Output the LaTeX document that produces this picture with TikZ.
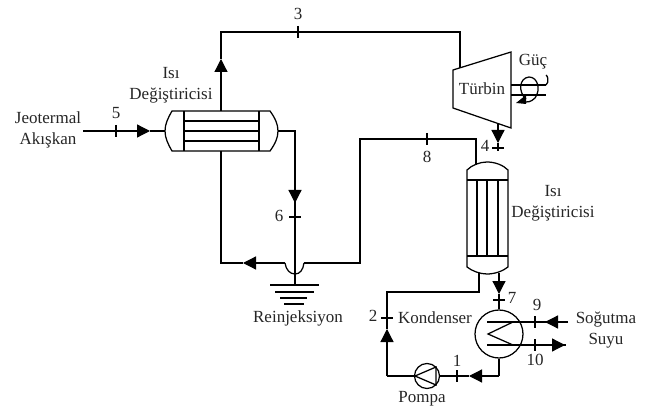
\documentclass[tikz,border=0pt]{standalone}
\usepackage{fontspec}
\setmainfont{Liberation Serif}
\usetikzlibrary{arrows.meta,calc}
\tikzset{
  wire/.style={line width=1.25pt,draw=black,line join=miter},
  thick wire/.style={line width=2pt,draw=black},
  tip/.style={wire,-{Triangle[length=13pt,width=13pt]}},
  txt/.style={inner sep=0pt,outer sep=0pt,align=center,font=\fontsize{17}{21}\selectfont,text=black!85},
}
\newcommand{\tickh}[2]{\draw[wire] (#1,#2-6) -- (#1,#2+6);}
\newcommand{\tickv}[2]{\draw[wire] (#1-6,#2) -- (#1+6,#2);}
\begin{document}
\begin{tikzpicture}[x=1pt,y=-1pt]
\useasboundingbox (0,0) rectangle (646,409);
\fill[white] (0,0) rectangle (646,409);

% Left heat exchanger
\coordinate (hxaL) at (165,131);
\coordinate (hxaR) at (278,131);
\coordinate (hxaT) at (221,111);
\coordinate (hxaB) at (221,151);
\draw[wire] (172,111) -- (270,111) .. controls (275,118) and (278,124) .. (hxaR) .. controls (278,138) and (275,144) .. (270,151) -- (172,151) .. controls (168,144) and (165,138) .. (hxaL) .. controls (165,124) and (168,118) .. (172,111) -- cycle;
\draw[wire] (184,111) -- (184,151) (259,111) -- (259,151);
\draw[wire] (184,121) -- (259,121) (184,131) -- (259,131) (184,141) -- (259,141);

% Turbine
\coordinate (tuIn) at (460,68);
\coordinate (tuOut) at (498,124);
\draw[wire] (453,70) -- (511,52) -- (511,128) -- (453,108) -- cycle;
\node[txt] (turbin) at (482,89) {Türbin};
\draw[wire] (511,85) -- (546,85) (511,95) -- (546,95);
\draw[wire] (546,85) arc[start angle=70,end angle=-70,x radius=3,y radius=5.3];
\draw[wire] (526,99) .. controls (518,92) and (519,78) .. (529,77) .. controls (538,77) and (541,90) .. (535,98) .. controls (531,102) and (527,103) .. (523,101);
\fill (516,103) -- (526,95) -- (526,104) -- cycle;

% Right heat exchanger
\coordinate (hxbT) at (476,165);
\coordinate (hxbB) at (479,273);
\coordinate (hxbBo) at (499,273);
\draw[wire] (467,170) .. controls (472,165) and (480,162) .. (487,162) .. controls (495,162) and (503,165) .. (508,170) -- (508,267) .. controls (503,271) and (495,274) .. (487,274) .. controls (480,274) and (472,271) .. (467,267) -- cycle;
\draw[wire] (467,180) -- (508,180) (467,256) -- (508,256);
\draw[wire] (477,180) -- (477,256) (487,180) -- (487,256) (498,180) -- (498,256);

% Condenser
\node[circle,draw=black,line width=1.25pt,minimum size=48pt,inner sep=0pt] (cond) at (499,334) {};
\coordinate (coilIn) at (568,322);
\coordinate (coilOut) at (566,345);
\draw[wire] (487,322) -- (coilIn);
\draw[wire] (513,322) -- (488,334) -- (513,345);
\draw[wire] (487,345) -- (coilOut);

% Pump
\node[circle,draw=black,line width=1.25pt,minimum size=25pt,inner sep=0pt] (pump) at (427,376) {};
\draw[wire] (415,376) -- (436,367) -- (436,385) -- cycle;

% Ground
\coordinate (gnd) at (295,285);
\draw[thick wire] (270,285) -- (319,285) (275,292) -- (314,292) (280,298) -- (307,298) (284,304) -- (304,304);

% Free ends and corners
\coordinate (in5) at (83,131);
\coordinate (tipA) at (150,131);
\coordinate (tipB) at (221,59);
\coordinate (c1) at (221,32);
\coordinate (c2) at (460,32);
\coordinate (c3) at (295,131);
\coordinate (tipC) at (295,203);
\coordinate (c4) at (221,263);
\coordinate (tipD) at (243,263);
\coordinate (a1) at (285,263);
\coordinate (a2) at (304,263);
\coordinate (c5) at (360,263);
\coordinate (c6) at (360,139);
\coordinate (c7) at (476,139);
\coordinate (tipE) at (498,143);
\coordinate (e1) at (498,151);
\coordinate (tipF) at (499,294);
\coordinate (c8) at (479,292);
\coordinate (c9) at (387,292);
\coordinate (tipG) at (387,329);
\coordinate (c10) at (387,376);
\coordinate (c11) at (499,376);
\coordinate (tipH) at (469,376);
\coordinate (tipI) at (545,322);
\coordinate (tipJ) at (565,345);

% Connectors
\draw[tip] (in5) -- (tipA);
\draw[wire] (tipA) -- (hxaL);
\draw[tip] (hxaT) -- (tipB);
\draw[wire] (tipB) -- (c1) -- (c2) -- (tuIn);
\draw[wire] (hxaR) -- (c3) -- (tipC);
\draw[tip] (c3) -- (tipC);
\draw[wire] (tipC) -- (gnd);
\draw[wire] (hxaB) -- (c4) -- (tipD);
\draw[tip] (a1) -- (tipD);
\draw[wire] (a1) .. controls (286,270) and (290,274) .. (295,274) .. controls (300,274) and (303,270) .. (a2);
\draw[wire] (a2) -- (c5) -- (c6) -- (c7) -- (hxbT);
\draw[tip] (tuOut) -- (tipE);
\draw[wire] (tipE) -- (e1);
\draw[tip] (hxbBo) -- (tipF);
\draw[wire] (tipF) -- (cond.north);
\draw[wire] (hxbB) -- (c8) -- (c9) -- (tipG);
\draw[tip] (c10) -- (tipG);
\draw[wire] (c10) -- (pump.west);
\draw[wire] (pump.east) -- (tipH);
\draw[tip] (c11) -- (tipH);
\draw[wire] (c11) -- (cond.south);
\draw[tip] (coilIn) -- (tipI);
\draw[tip] (513,345) -- (tipJ);

% Ticks
\tickh{116}{131}
\tickh{298}{32}
\tickh{427}{139}
\tickv{295}{217}
\tickv{498}{148}
\tickv{499}{300}
\tickv{387}{318}
\tickh{457}{376}
\tickh{535}{322}
\tickh{535}{345}

% Labels
\node[txt] (l3) at (298,14) {3};
\node[txt] (l5) at (116,113) {5};
\node[txt] (l6) at (279,216) {6};
\node[txt] (l8) at (427,157) {8};
\node[txt] (l4) at (485,146) {4};
\node[txt] (l7) at (512,298) {7};
\node[txt] (l2) at (373,316) {2};
\node[txt] (l1) at (457,361) {1};
\node[txt] (l9) at (537,305) {9};
\node[txt] (l10) at (535,360) {10};
\node[txt] (jeo) at (48,129.5) {Jeotermal\\Akışkan};
\node[txt] (isa) at (171,85.5) {Isı\\Değiştiricisi};
\node[txt] (isb) at (553,203) {Isı\\Değiştiricisi};
\node[txt] (guc) at (533,62) {Güç};
\node[txt] (rein) at (298,318) {Reinjeksiyon};
\node[txt] (kond) at (435,318) {Kondenser};
\node[txt] (pompa) at (422,399) {Pompa};
\node[txt] (sog) at (606,330.5) {Soğutma\\Suyu};
\end{tikzpicture}
\end{document}
